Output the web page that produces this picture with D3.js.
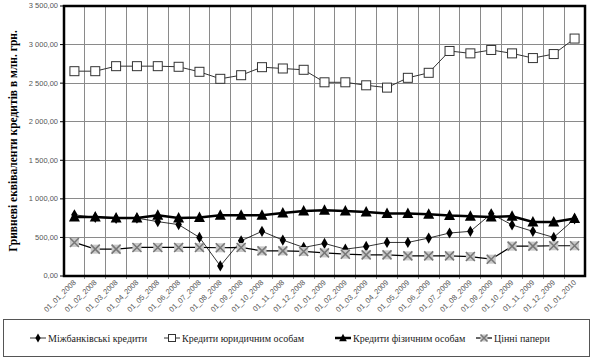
<!DOCTYPE html>
<meta charset="utf-8">
<style>
body { margin: 0; background: #fff; }
.grid line { stroke: #8a8a8a; stroke-width: 1px; shape-rendering: crispEdges; }
.tick-lbl { font-family: "Liberation Sans", Arial, sans-serif; font-size: 7.5px; fill: #555; }
.legend text { font-family: "Liberation Serif", "Times New Roman", serif; font-size: 10px; fill: #222; }
</style>
<svg width="596" height="364"></svg>
<script src="https://cdn.jsdelivr.net/npm/d3@7"></script>
<script>

var dates = ["01_01_2008","01_02_2008","01_03_2008","01_04_2008","01_05_2008","01_06_2008",
  "01_07_2008","01_08_2008","01_09_2008","01_10_2008","01_11_2008","01_12_2008",
  "01_01_2009","01_02_2009","01_03_2009","01_04_2009","01_05_2009","01_06_2009",
  "01_07_2009","01_08_2009","01_09_2009","01_10_2009","01_11_2009","01_12_2009","01_01_2010"];

// Міжбанківські кредити
var interbank = [793, 760, 745, 750, 705, 666, 500, 131, 457, 579, 466, 370, 422,
  348, 383, 435, 435, 492, 557, 579, 806, 662, 579, 500, 740];
// Кредити юридичним особам
var legal = [2655, 2655, 2720, 2720, 2720, 2712, 2647, 2556, 2603, 2707, 2690, 2673, 2511,
  2511, 2472, 2442, 2569, 2634, 2917, 2886, 2930, 2886, 2825, 2877, 3078];
// Кредити фізичним особам
var individ = [765, 765, 752, 752, 788, 752, 758, 788, 788, 788, 818, 844, 852,
  844, 831, 810, 810, 801, 784, 775, 765, 775, 700, 700, 744];
// Цінні папери
var securities = [435, 348, 348, 370, 370, 370, 370, 366, 370, 326, 326, 318, 300,
  283, 274, 274, 261, 261, 261, 252, 218, 387, 387, 392, 392];

var yTicks = [0, 500, 1000, 1500, 2000, 2500, 3000, 3500];
var seriesNames = ["Міжбанківські кредити", "Кредити юридичним особам", "Кредити фізичним особам", "Цінні папери"];

var svg = d3.select("svg"),
    margin = {top: 6, right: 11, bottom: 88, left: 64},
    width = +svg.attr("width") - margin.left - margin.right,
    height = +svg.attr("height") - margin.top - margin.bottom,
    g = svg.append("g").attr("transform", "translate(" + margin.left + "," + margin.top + ")");

var x = d3.scaleBand().domain(dates).range([0, width]),
    y = d3.scaleLinear().domain([0, 3500]).range([height, 0]);

var fmt = d3.formatLocale({decimal: ",", thousands: " ", grouping: [3], currency: ["", ""]}).format(",.2f");

var cx = function(i) { return x(dates[i]) + x.bandwidth() / 2; };

// grid
var grid = g.append("g").attr("class", "grid");
grid.selectAll(".hl").data(yTicks.slice(1, -1)).enter().append("line")
    .attr("x1", 0).attr("x2", width)
    .attr("y1", function(d) { return y(d); }).attr("y2", function(d) { return y(d); });
grid.selectAll(".vl").data(dates.slice(1)).enter().append("line")
    .attr("x1", function(d) { return x(d); }).attr("x2", function(d) { return x(d); })
    .attr("y1", 0).attr("y2", height + 3);

// y ticks
g.selectAll(".ytk").data(yTicks).enter().append("line")
    .attr("x1", -4).attr("x2", 0)
    .attr("y1", function(d) { return y(d); }).attr("y2", function(d) { return y(d); })
    .attr("stroke", "#000");
g.selectAll(".ylbl").data(yTicks).enter().append("text")
    .attr("class", "tick-lbl")
    .attr("x", -6).attr("y", function(d) { return y(d); })
    .attr("dy", "0.32em").attr("text-anchor", "end")
    .text(function(d) { return fmt(d); });

// x labels
g.selectAll(".xlbl").data(dates).enter().append("text")
    .attr("class", "tick-lbl")
    .attr("text-anchor", "end")
    .attr("transform", function(d) { return "translate(" + (x(d) + x.bandwidth() / 2 + 2) + "," + (height + 7) + ") rotate(-45)"; })
    .text(function(d) { return d; });

// frame
g.append("rect").attr("x", 0).attr("y", 0).attr("width", width).attr("height", height)
    .attr("fill", "none").attr("stroke", "#000").attr("stroke-width", 2.5);

// y title
svg.append("text")
    .attr("transform", "translate(17," + (margin.top + height / 2) + ") rotate(-90)")
    .attr("text-anchor", "middle")
    .style("font-family", "'Liberation Serif', 'Times New Roman', serif")
    .style("font-weight", "bold").style("font-size", "11.5px")
    .text("Гривневі еквіваленти кредитів в млн. грн.");

function lineOf(vals) {
  return d3.line().x(function(d, i) { return cx(i); }).y(function(d) { return y(d); })(vals);
}

function diamond(sel, s) {
  sel.append("path").attr("d", d3.symbol().type(d3.symbolDiamond).size(s)).attr("fill", "#000");
}
function square(sel, s) {
  sel.append("rect").attr("x", -s / 2).attr("y", -s / 2).attr("width", s).attr("height", s)
    .attr("fill", "#fff").attr("stroke", "#333").attr("stroke-width", 1);
}
function triangle(sel, s) {
  sel.append("path").attr("d", "M0," + (-s * 0.6) + "L" + (s * 0.55) + "," + (s * 0.45) + "L" + (-s * 0.55) + "," + (s * 0.45) + "Z")
    .attr("fill", "#000");
}
function cross(sel, s) {
  sel.append("rect").attr("x", -s / 2).attr("y", -s / 2).attr("width", s).attr("height", s)
    .attr("fill", "#c8c8c8");
  sel.append("path").attr("d", "M" + (-s / 2) + "," + (-s / 2) + "L" + (s / 2) + "," + (s / 2) + "M" + (s / 2) + "," + (-s / 2) + "L" + (-s / 2) + "," + (s / 2))
    .attr("stroke", "#777").attr("stroke-width", 1.5);
}

var series = [
  {vals: interbank, stroke: "#000", sw: 0.8, mark: diamond, size: 36},
  {vals: legal, stroke: "#333", sw: 1, mark: square, size: 9},
  {vals: individ, stroke: "#000", sw: 2.5, mark: triangle, size: 10},
  {vals: securities, stroke: "#000", sw: 1.2, mark: cross, size: 9}
];

series.forEach(function(s) {
  g.append("path").attr("d", lineOf(s.vals)).attr("fill", "none")
    .attr("stroke", s.stroke).attr("stroke-width", s.sw);
  g.selectAll(null).data(s.vals).enter().append("g")
    .attr("transform", function(d, i) { return "translate(" + cx(i) + "," + y(d) + ")"; })
    .each(function() { s.mark(d3.select(this), s.size); });
});

// legend
var lg = svg.append("g").attr("class", "legend");
lg.append("rect").attr("x", 3.5).attr("y", 319.5).attr("width", 586).attr("height", 37)
  .attr("fill", "#fff").attr("stroke", "#555").attr("stroke-width", 1);
var lx = [30, 164, 335, 476];
seriesNames.forEach(function(n, i) {
  var s = series[i], item = lg.append("g").attr("transform", "translate(" + lx[i] + ",338)");
  item.append("line").attr("x1", 0).attr("x2", 16).attr("stroke", s.stroke).attr("stroke-width", s.sw);
  var m = item.append("g").attr("transform", "translate(8,0)");
  s.mark(m, i === 0 ? 24 : 7);
  item.append("text").attr("x", 18).attr("dy", "0.35em").text(n);
});

</script>
